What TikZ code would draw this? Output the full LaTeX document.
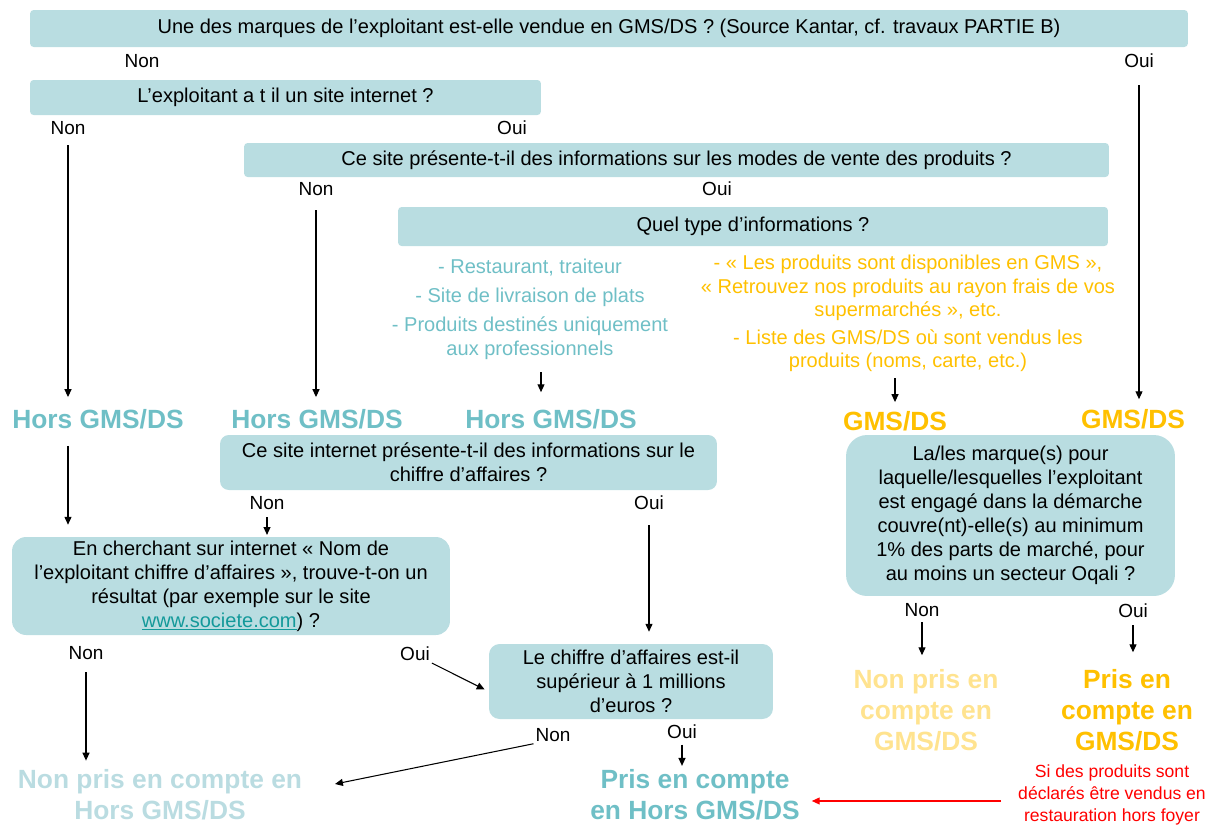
\documentclass[tikz,border=0pt]{standalone}
\usepackage{fontspec}
\setmainfont{Liberation Sans}
\usetikzlibrary{arrows.meta,calc}
\definecolor{boxblue}{HTML}{B9DDE1}
\definecolor{tealtxt}{HTML}{6FBFC6}
\definecolor{tealpale}{HTML}{BADCE1}
\definecolor{goldtxt}{HTML}{FFC000}
\definecolor{goldpale}{HTML}{FFE38F}
\definecolor{linkteal}{HTML}{13999A}

\begin{document}
\begin{tikzpicture}[x=0.02cm,y=-0.02cm]
      \useasboundingbox (0,0) rectangle (1217,826);

      % question boxes
      \begin{scope}[every node/.style={fill=boxblue,inner sep=0pt,align=center,
          font=\fontsize{11.4}{13.6}\selectfont}]
        \node[rounded corners=2pt,minimum width=23.16cm,minimum height=0.74cm] (q1) at (609,28.5)
          {Une des marques de l’exploitant est-elle vendue en GMS/DS ? (Source Kantar, cf. travaux PARTIE B)};
        \node[rounded corners=2pt,minimum width=10.22cm,minimum height=0.7cm] (q2) at (285.5,97.5)
          {L’exploitant a t il un site internet ?};
        \node[rounded corners=2pt,minimum width=17.3cm,minimum height=0.68cm] (q3) at (676.5,160)
          {Ce site présente-t-il des informations sur les modes de vente des produits ?};
        \node[rounded corners=2pt,minimum width=14.2cm,minimum height=0.78cm] (q4) at (753,226.5)
          {Quel type d’informations ?};
        \node[rounded corners=5pt,minimum width=9.94cm,minimum height=1.1cm] (q5) at (468.5,462.5)
          {Ce site internet présente-t-il des informations sur le\\chiffre d’affaires ?};
        \node[rounded corners=8pt,minimum width=8.76cm,minimum height=1.96cm] (q6) at (231,586)
          {En cherchant sur internet « Nom de\\l’exploitant chiffre d’affaires », trouve-t-on un\\résultat (par exemple sur le site\\\textcolor{linkteal}{\underline{www.societe.com}}) ?};
        \node[rounded corners=6pt,minimum width=5.68cm,minimum height=1.5cm] (q7) at (631,681.5)
          {Le chiffre d’affaires est-il\\supérieur à 1 millions\\d’euros ?};
        \node[rounded corners=12pt,minimum width=6.58cm,minimum height=3.22cm] (q8) at (1010.5,515.5)
          {La/les marque(s) pour\\laquelle/lesquelles l’exploitant\\est engagé dans la démarche\\couvre(nt)-elle(s) au minimum\\1\% des parts de marché, pour\\au moins un secteur Oqali ?};
      \end{scope}

      % Non / Oui
      \begin{scope}[every node/.style={inner sep=1pt,font=\fontsize{10.8}{13.6}\selectfont}]
        \node (n1) at (142,61)  {Non};
        \node (o1) at (1139,61) {Oui};
        \node (n2) at (68,128)  {Non};
        \node (o2) at (512,128) {Oui};
        \node (n3) at (316,189) {Non};
        \node (o3) at (717,189) {Oui};
        \node (n5) at (267,503) {Non};
        \node (o5) at (649,503) {Oui};
        \node (n6) at (86,653)  {Non};
        \node (o6) at (415,654) {Oui};
        \node (n7) at (553,735) {Non};
        \node (o7) at (682,732) {Oui};
        \node (n8) at (922,610) {Non};
        \node (o8) at (1133,611) {Oui};
      \end{scope}

      % answer lists
      \begin{scope}[every node/.style={inner sep=1pt,align=center,font=\fontsize{11.4}{13.3}\selectfont}]
        \node[text=tealtxt] (lt) at (530,309)
          {- Restaurant, traiteur\\[3.4pt]- Site de livraison de plats\\[3.4pt]- Produits destinés uniquement\\aux professionnels};
        \node[text=goldtxt] (ly) at (908,313.5)
          {- « Les produits sont disponibles en GMS »,\\« Retrouvez nos produits au rayon frais de vos\\supermarchés », etc.\\[2.5pt]- Liste des GMS/DS où sont vendus les\\produits (noms, carte, etc.)};
      \end{scope}

      % outcomes
      \begin{scope}[every node/.style={inner sep=1pt,align=center,font=\bfseries\fontsize{15}{17.6}\selectfont}]
        \node[text=tealtxt] (h1) at (98,419)  {Hors GMS/DS};
        \node[text=tealtxt] (h2) at (317,419) {Hors GMS/DS};
        \node[text=tealtxt] (h3) at (551,419) {Hors GMS/DS};
        \node[text=goldtxt] (g1) at (895,421) {GMS/DS};
        \node[text=goldtxt] (g2) at (1133,419) {GMS/DS};
        \node[text=tealpale] (nph) at (160,795) {Non pris en compte en\\Hors GMS/DS};
        \node[text=tealtxt] (ph) at (695,795) {Pris en compte\\en Hors GMS/DS};
        \node[text=goldpale] (npg) at (926,710) {Non pris en\\compte en\\GMS/DS};
        \node[text=goldtxt] (pg) at (1127,710) {Pris en\\compte en\\GMS/DS};
      \end{scope}
      \node[inner sep=1pt,align=center,text=red,font=\fontsize{10}{12.3}\selectfont] (note) at (1112,795)
        {Si des produits sont\\déclarés être vendus en\\restauration hors foyer};

      \coordinate (t1) at (541,372);
      \coordinate (t2) at (895,378);
      \coordinate (t3) at (335,784);

      \begin{scope}[every edge/.style={draw,line width=0.6pt,-{Triangle[length=4.5pt,width=4pt]}}]
        \path (o1.south) edge[shorten <=8.5pt,shorten >=4.5pt] (o1.south |- g2.north);
        \path (n2.south) edge[shorten <=4.8pt,shorten >=5.7pt] (n2.south |- h1.north);
        \path (n3.south) edge[shorten <=7pt,shorten >=5.7pt] (n3.south |- h2.north);
        \path (t1) edge[shorten >=8.5pt] (t1 |- h3.north);
        \path (t2) edge[shorten >=4pt] (t2 |- g1.north);
        \path (h1.south -| n2.south) edge[shorten <=8.5pt,shorten >=6.8pt] (n2.south |- q6.north);
        \path (n5.south) edge[shorten <=3pt,shorten >=1pt] (n5.south |- q6.north);
        \path (o5.south) edge[shorten <=7.5pt,shorten >=6.8pt] (o5.south |- q7.north);
        \path (o6.south east) edge ($(q7.west)+(-4,8)$);
        \path (n6.south) edge[shorten <=6pt,shorten >=4pt] (n6.south |- nph.north);
        \path (n7.south west) edge (t3);
        \path (o7.south) edge[shorten <=2pt,shorten >=1pt] (o7.south |- ph.north);
        \path (n8.south) edge[shorten <=2pt,shorten >=6.8pt] (n8.south |- npg.north);
        \path (o8.south) edge[shorten <=3pt,shorten >=8.5pt] (o8.south |- pg.north);
        \path ([yshift=-3.4pt]note.west) edge[red,shorten <=8.5pt,shorten >=5.7pt] ([yshift=-3.4pt]note.west -| ph.east);
      \end{scope}

    \end{tikzpicture}
\end{document}
